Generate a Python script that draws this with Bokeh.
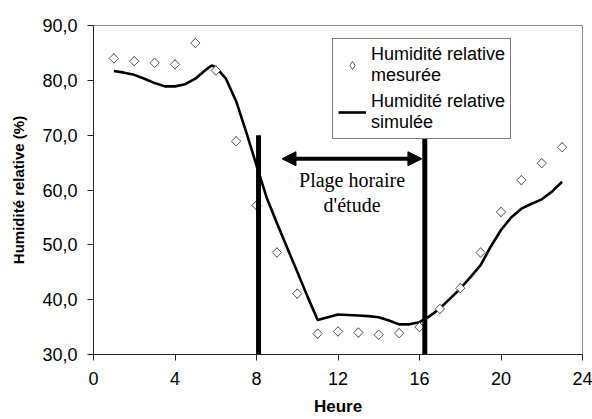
from bokeh.plotting import figure
from bokeh.models import (FixedTicker, Range1d, Legend, LegendItem, Arrow, NormalHead, Label)
from bokeh.embed import file_html
from bokeh.resources import INLINE

# Measured relative humidity (hourly)
hours_meas = [1, 2, 3, 4, 5, 6, 7, 8, 9, 10, 11, 12, 13, 14, 15, 16, 17, 18, 19, 20, 21, 22, 23]
rh_meas = [84.0, 83.5, 83.2, 82.9, 86.8, 81.8, 68.9, 57.2, 48.6, 41.1, 33.8, 34.2, 34.0, 33.6,
           33.9, 35.0, 38.3, 42.1, 48.6, 56.0, 61.8, 64.9, 67.8]

# Simulated relative humidity
hours_sim = [1.0, 1.5, 2.0, 2.5, 3.0, 3.5, 4.0, 4.5, 5.0, 5.5, 5.8, 6.0, 6.5, 7.0, 7.5, 8.0,
             8.5, 9.0, 9.5, 10.0, 10.5, 11.0, 11.5, 12.0, 12.5, 13.0, 13.5, 14.0, 14.5, 15.0,
             15.5, 16.0, 16.5, 17.0, 17.5, 18.0, 18.5, 19.0, 19.5, 20.0, 20.5, 21.0, 21.5,
             22.0, 22.5, 23.0]
rh_sim = [81.7, 81.4, 81.0, 80.3, 79.5, 78.9, 78.9, 79.3, 80.3, 81.9, 82.7, 82.4, 80.3, 76.2,
          70.5, 64.5, 58.6, 54.0, 49.5, 45.1, 40.6, 36.3, 36.8, 37.3, 37.2, 37.1, 37.0, 36.8,
          36.2, 35.5, 35.5, 35.9, 37.0, 38.4, 40.2, 42.0, 44.1, 46.3, 49.7, 52.7, 55.0, 56.6,
          57.5, 58.3, 59.7, 61.5]

# Study window
study_start, study_end = 8.1, 16.26
bar_top = 70.0
arrow_level = 65.7

x_ticks = [0, 4, 8, 12, 16, 20, 24]
y_ticks = [30, 40, 50, 60, 70, 80, 90]
y_tick_labels = {v: f"{v},0" for v in y_ticks}

FONT = "Liberation Sans"

p = figure(width=592, height=419, output_backend="svg", toolbar_location=None,
           x_range=Range1d(0, 24), y_range=Range1d(30, 90),
           min_border_left=93, min_border_right=10, min_border_top=25, min_border_bottom=65)

p.background_fill_color = "white"
p.border_fill_color = "white"
p.outline_line_color = "#8a8a8a"
p.outline_line_width = 1
p.xgrid.visible = False
p.ygrid.visible = False

for ax in (p.xaxis[0], p.yaxis[0]):
    ax.axis_line_color = "#222222"
    ax.major_tick_line_color = "#222222"
    ax.minor_tick_line_color = None
    ax.major_tick_in = 0
    ax.major_tick_out = 6
    ax.major_label_text_font = FONT
    ax.major_label_text_font_size = "18px"
    ax.major_label_text_color = "black"
    ax.axis_label_text_font = FONT
    ax.axis_label_text_font_style = "bold"
    ax.axis_label_text_color = "black"

p.xaxis.ticker = FixedTicker(ticks=x_ticks)
p.yaxis.ticker = FixedTicker(ticks=y_ticks)
p.yaxis.major_label_overrides = y_tick_labels
p.xaxis.major_label_standoff = 11
p.yaxis.major_label_standoff = 10
p.xaxis.axis_label = "Heure"
p.xaxis.axis_label_text_font_size = "17px"
p.xaxis.axis_label_standoff = 9
p.yaxis.axis_label = "Humidité relative (%)"
p.yaxis.axis_label_text_font_size = "15px"
p.yaxis.axis_label_standoff = 12

line_r = p.line(hours_sim, rh_sim, line_color="black", line_width=2.6)
# legend swatch layer (diamond), covered by the rotated squares below
legend_r = p.scatter(hours_meas, rh_meas, marker="diamond", size=9.5,
                     line_color="#555555", line_width=1, fill_color="white")
p.scatter(hours_meas, rh_meas, marker="square", angle=0.785398, size=6.6,
          line_color="#555555", line_width=1, fill_color="white")

# Study window bars
p.segment(x0=[study_start, study_end], y0=[30, 30], x1=[study_start, study_end],
          y1=[bar_top, bar_top], line_color="black", line_width=5)

# Double arrow
p.add_layout(Arrow(x_start=9.25, y_start=arrow_level, x_end=16.12, y_end=arrow_level,
                   line_width=4, line_color="black",
                   start=NormalHead(size=14, fill_color="black", line_color="black"),
                   end=NormalHead(size=14, fill_color="black", line_color="black")))

p.add_layout(Label(x=12.69, y=61.8, text="Plage horaire", text_align="center",
                   text_baseline="alphabetic", text_font="Liberation Serif",
                   text_font_size="20px", text_color="black"))
p.add_layout(Label(x=12.69, y=57.3, text="d'étude", text_align="center",
                   text_baseline="alphabetic", text_font="Liberation Serif",
                   text_font_size="20px", text_color="black"))

legend = Legend(items=[LegendItem(label="Humidité relative\nmesurée", renderers=[legend_r]),
                       LegendItem(label="Humidité relative\nsimulée", renderers=[line_r])],
                location=(239, 215))
legend.border_line_color = "black"
legend.border_line_width = 1
legend.background_fill_color = "white"
legend.background_fill_alpha = 1
legend.label_text_font = FONT
legend.label_text_font_size = "18px"
legend.label_text_color = "black"
legend.label_text_line_height = 1.1
legend.label_standoff = 5
legend.glyph_width = 28
legend.padding = 5
legend.margin = 0
legend.spacing = 5
p.add_layout(legend)

open("out.html", "w").write(file_html(p, INLINE))
